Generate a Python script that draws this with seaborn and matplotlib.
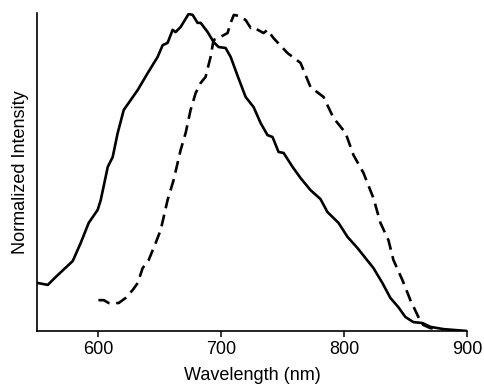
import pandas as pd
import seaborn as sns
import matplotlib.pyplot as plt

# solid curve (wavelength nm, normalized intensity)
solid_nm = [550.6, 558.8, 565.3, 579.1, 585.6, 592.1, 599.4, 601.9, 607.6, 611.6,
            615.7, 620.6, 632.0, 640.1, 648.2, 652.3, 656.3, 660.4, 662.8, 666.9,
            673.4, 676.7, 680.7, 683.2, 688.9, 693.7, 697.8, 703.5, 707.6, 713.3,
            719.8, 726.3, 732.0, 737.6, 741.7, 746.6, 750.7, 758.0, 764.5, 772.6,
            780.7, 786.4, 795.4, 802.7, 810.8, 823.8, 831.1, 837.6, 844.1, 849.8,
            856.3, 863.7, 870.2, 880.7, 900.0]
solid_int = [0.151, 0.145, 0.170, 0.220, 0.277, 0.340, 0.381, 0.412, 0.516, 0.547,
             0.623, 0.695, 0.758, 0.811, 0.862, 0.899, 0.906, 0.947, 0.940, 0.956,
             0.997, 0.994, 0.969, 0.969, 0.940, 0.909, 0.893, 0.890, 0.862, 0.802,
             0.736, 0.704, 0.654, 0.616, 0.610, 0.563, 0.560, 0.516, 0.481, 0.443,
             0.415, 0.374, 0.340, 0.296, 0.261, 0.198, 0.151, 0.104, 0.075, 0.044,
             0.028, 0.025, 0.013, 0.006, 0.0]

# dashed curve
dashed_nm = [600.0, 604.3, 608.4, 616.5, 622.2, 627.9, 632.0, 636.0, 640.9, 646.6,
             650.7, 656.3, 661.2, 666.9, 671.0, 675.0, 679.1, 683.2, 687.2, 691.3,
             693.7, 699.4, 705.1, 707.6, 710.2, 714.2, 719.8, 723.9, 725.5, 734.4,
             737.6, 742.5, 753.9, 764.5, 772.6, 783.2, 791.3, 801.1, 807.6, 815.7,
             823.8, 829.5, 836.0, 840.1, 847.4, 853.9, 860.4, 864.4, 870.2, 875.9]
dashed_int = [0.097, 0.097, 0.088, 0.088, 0.104, 0.129, 0.151, 0.198, 0.223, 0.277,
              0.318, 0.412, 0.475, 0.569, 0.623, 0.695, 0.748, 0.780, 0.799, 0.862,
              0.915, 0.925, 0.937, 0.969, 0.994, 0.991, 0.978, 0.953, 0.956, 0.937,
              0.947, 0.921, 0.874, 0.843, 0.767, 0.736, 0.670, 0.623, 0.553, 0.497,
              0.418, 0.340, 0.286, 0.223, 0.160, 0.097, 0.044, 0.019, 0.009, 0.006]

x_ticks = [600, 700, 800, 900]

sns.set_style("ticks")
plt.rcParams['font.family'] = ['Liberation Sans', 'DejaVu Sans']
plt.rcParams['text.color'] = 'black'
plt.rcParams['axes.labelcolor'] = 'black'
plt.rcParams['xtick.color'] = 'black'
plt.rcParams['axes.edgecolor'] = 'black'

fig = plt.figure(figsize=(4.84, 3.87), dpi=100)
ax = fig.add_axes([0.0764, 0.1447, 0.8886, 0.8217])

df_solid = pd.DataFrame({"nm": solid_nm, "y": solid_int})
df_dash = pd.DataFrame({"nm": dashed_nm, "y": dashed_int})

sns.lineplot(data=df_solid, x="nm", y="y", ax=ax, color="black", linewidth=1.9)
sns.lineplot(data=df_dash, x="nm", y="y", ax=ax, color="black", linewidth=1.9)
ax.lines[-1].set_dashes([4.5, 2.5])

ax.set_xlim(550, 900)
ax.set_ylim(0, 1.0)
ax.set_xticks(x_ticks)
ax.set_yticks([])
ax.tick_params(axis="x", direction="out", length=4, width=1.1, labelsize=13, pad=3,
               colors="black")
for s in ["left", "bottom"]:
    ax.spines[s].set_linewidth(1.2)
sns.despine(ax=ax)

ax.set_xlabel("Wavelength (nm)", fontsize=13, labelpad=7)
ax.set_ylabel("Normalized Intensity", fontsize=13, labelpad=6)

fig.savefig("out.png", dpi=100)
